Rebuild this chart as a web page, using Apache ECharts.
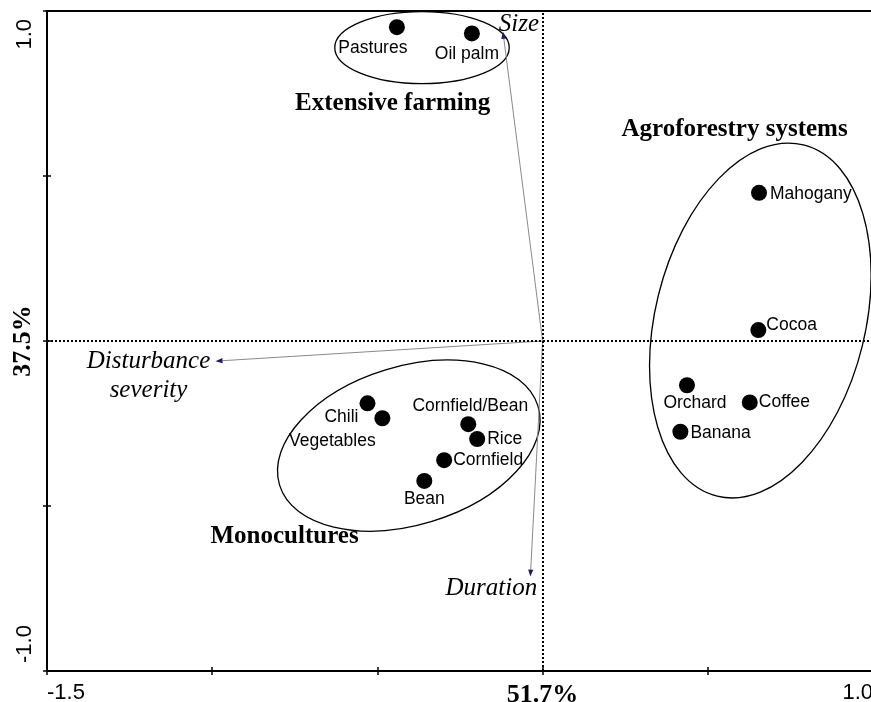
<!DOCTYPE html>
<html>
<head>
<meta charset="utf-8">
<script src="https://cdn.jsdelivr.net/npm/echarts@6/dist/echarts.min.js"></script>
<style>html,body{margin:0;padding:0;background:#fff}#c{width:871px;height:702px}</style>
</head>
<body>
<div id="c"></div>
<script>
// ---- data ----
const categories = ['Pastures','Oil palm','Mahogany','Cocoa','Orchard','Coffee','Banana','Chili','Vegetables','Cornfield/Bean','Rice','Cornfield','Bean'];
const dim1 = [-0.441,-0.214,0.655,0.653,0.437,0.627,0.417,-0.530,-0.485,-0.225,-0.198,-0.298,-0.358];
const dim2 = [0.951,0.932,0.449,0.033,-0.134,-0.186,-0.275,-0.189,-0.234,-0.252,-0.297,-0.361,-0.424];

const vectorNames = ['Size','Disturbance\nseverity','Duration'];
const vectorX = [-0.120,-0.990,-0.037];
const vectorY = [0.937,-0.061,-0.714];

const groupNames = ['Extensive farming','Agroforestry systems','Monocultures'];
// ellipse: centre x, centre y, radius x, radius y (data units), angle (deg)
const groupEllipseCX = [-0.365,0.659,-0.405];
const groupEllipseCY = [0.889,0.062,-0.317];
const groupEllipseRX = [0.264,0.318,0.409];
const groupEllipseRY = [0.109,0.548,0.240];
const groupEllipseAngle = [0,-13.8,17];
const groupTitleX = [-0.454,0.581,-0.781];
const groupTitleY = [0.721,0.642,-0.594];

const xTickValues = [-1.5,0,1.0];
const xTickLabels = ['-1.5','51.7%','1.0'];
const yTickValues = [-1.0,0,1.0];
const yTickLabels = ['-1.0','37.5%','1.0'];
const percentLabels = ['51.7%','37.5%'];

// ---- styles (label placement) ----
const labelPlace = {
  'Pastures':['center',-24,21],'Oil palm':['center',-5,21],'Mahogany':['left',11,1],
  'Cocoa':['left',8,-5],'Orchard':['center',8,18],'Coffee':['left',9,0],'Banana':['left',10,1],
  'Chili':['center',-26,14],'Vegetables':['center',-50,23],'Cornfield/Bean':['center',2,-18],
  'Rice':['left',10,0],'Cornfield':['left',9,0],'Bean':['center',0,18]
};
const vectorLabelOffset = [[16,-7],[-67,15],[-39,12]];

function tickFmt(values, labels){
  return function(v){
    for (let i=0;i<values.length;i++){
      if (Math.abs(v-values[i])<1e-9){
        const t = labels[i];
        return percentLabels.indexOf(t)>=0 ? '{p|'+t+'}' : t;
      }
    }
    return '';
  };
}
const richP = {p:{fontFamily:'Liberation Serif',fontWeight:'bold',fontSize:26,color:'#000'}};

const chart = echarts.init(document.getElementById('c'));
const scatterData = categories.map((n,i)=>{
  const p = labelPlace[n];
  return {name:n, value:[dim1[i],dim2[i]],
    label:{show:true, position:'inside', align:p[0], verticalAlign:'middle', offset:[p[1],p[2]]}};
});

chart.setOption({
  animation:false,
  backgroundColor:'#fff',
  grid:{left:47,right:-2,top:11,bottom:31,containLabel:false,outerBoundsMode:'none'},
  xAxis:[
    {type:'value',position:'bottom',min:-1.5,max:1.0,interval:0.5,
     axisLine:{show:true,onZero:false,lineStyle:{color:'#000',width:2}},
     axisTick:{show:true,inside:false,length:4,lineStyle:{color:'#000',width:1.5}},
     splitLine:{show:false},
     axisLabel:{show:true,margin:11,formatter:tickFmt(xTickValues,xTickLabels),rich:richP,
       fontFamily:'Liberation Sans',fontSize:22,color:'#000',alignMinLabel:'left',alignMaxLabel:'right',
       showMinLabel:true,showMaxLabel:true}},
    {type:'value',position:'top',min:-1.5,max:1.0,interval:0.5,
     axisLine:{show:true,onZero:false,lineStyle:{color:'#000',width:2}},
     axisTick:{show:false},axisLabel:{show:false},splitLine:{show:false}},
    {type:'value',position:'bottom',min:-1.5,max:1.0,interval:0.5,
     axisLine:{show:false,onZero:false},
     axisTick:{show:true,inside:true,length:4,lineStyle:{color:'#000',width:1.5}},
     axisLabel:{show:false},splitLine:{show:false}}
  ],
  yAxis:[
    {type:'value',position:'left',min:-1.0,max:1.0,interval:0.5,
     axisLine:{show:true,onZero:false,lineStyle:{color:'#000',width:2}},
     axisTick:{show:true,inside:false,length:4,lineStyle:{color:'#000',width:1.5}},
     splitLine:{show:false},
     axisLabel:{show:true,rotate:90,margin:11,formatter:tickFmt(yTickValues,yTickLabels),rich:richP,
       fontFamily:'Liberation Sans',fontSize:22,color:'#000',padding:[0,8,0,8],
       alignMinLabel:'left',alignMaxLabel:'right',showMinLabel:true,showMaxLabel:true}},
    {type:'value',position:'left',min:-1.0,max:1.0,interval:0.5,
     axisLine:{show:false,onZero:false},
     axisTick:{show:true,inside:true,length:4,lineStyle:{color:'#000',width:1.5}},
     axisLabel:{show:false},splitLine:{show:false}}
  ],
  series:[
    {type:'custom',name:'ellipses',xAxisIndex:0,yAxisIndex:0,clip:false,silent:true,z:1,
     data:groupNames.map((n,i)=>[groupEllipseCX[i],groupEllipseCY[i],groupEllipseRX[i],groupEllipseRY[i],groupEllipseAngle[i]]),
     renderItem:function(params,api){
       const c = api.coord([api.value(0),api.value(1)]);
       const rx = api.size([api.value(2),0])[0];
       const ry = api.size([0,api.value(3)])[1];
       return {type:'ellipse',x:c[0],y:c[1],rotation:api.value(4)*Math.PI/180,
         shape:{cx:0,cy:0,rx:rx,ry:ry},style:{fill:null,stroke:'#000',lineWidth:1.3}};
     }},
    {type:'custom',name:'titles',xAxisIndex:0,yAxisIndex:0,clip:false,silent:true,z:3,
     data:groupNames.map((n,i)=>[groupTitleX[i],groupTitleY[i]]),
     renderItem:function(params,api){
       const c = api.coord([api.value(0),api.value(1)]);
       return {type:'text',x:c[0],y:c[1],style:{text:groupNames[params.dataIndex],
         fontFamily:'Liberation Serif',fontWeight:'bold',fontSize:25,fill:'#000',align:'center',verticalAlign:'middle'}};
     }},
    {type:'custom',name:'vectors',xAxisIndex:0,yAxisIndex:0,clip:false,silent:true,z:2,
     data:vectorNames.map((n,i)=>[vectorX[i],vectorY[i]]),
     renderItem:function(params,api){
       const o = api.coord([0,0]);
       const e = api.coord([api.value(0),api.value(1)]);
       const dx=e[0]-o[0], dy=e[1]-o[1], L=Math.sqrt(dx*dx+dy*dy);
       const ux=dx/L, uy=dy/L, px=-uy, py=ux;
       const hl=7, hw=2.6;
       const bx=e[0]-ux*hl, by=e[1]-uy*hl;
       const off = vectorLabelOffset[params.dataIndex];
       return {type:'group',children:[
         {type:'line',shape:{x1:o[0],y1:o[1],x2:bx,y2:by},style:{stroke:'#8a8a8a',lineWidth:1}},
         {type:'polygon',shape:{points:[[e[0],e[1]],[bx+px*hw,by+py*hw],[bx-px*hw,by-py*hw]]},style:{fill:'#1c1c5c'}},
         {type:'text',x:e[0]+off[0],y:e[1]+off[1],style:{text:vectorNames[params.dataIndex],
           fontFamily:'Liberation Serif',fontStyle:'italic',fontSize:25,lineHeight:29,fill:'#000',align:'center',verticalAlign:'middle'}}
       ]};
     }},
    {type:'scatter',name:'systems',xAxisIndex:0,yAxisIndex:0,symbol:'circle',symbolSize:16,z:4,
     itemStyle:{color:'#000',opacity:1},
     label:{show:true,formatter:'{b}',fontFamily:'Liberation Sans',fontSize:17.5,color:'#000',opacity:1},
     data:scatterData,
     markLine:{silent:true,symbol:['none','none'],label:{show:false},
       lineStyle:{color:'#000',width:2,type:[2,2],opacity:1},
       data:[{xAxis:0},{yAxis:0}]}}
  ]
});
</script>
</body>
</html>
